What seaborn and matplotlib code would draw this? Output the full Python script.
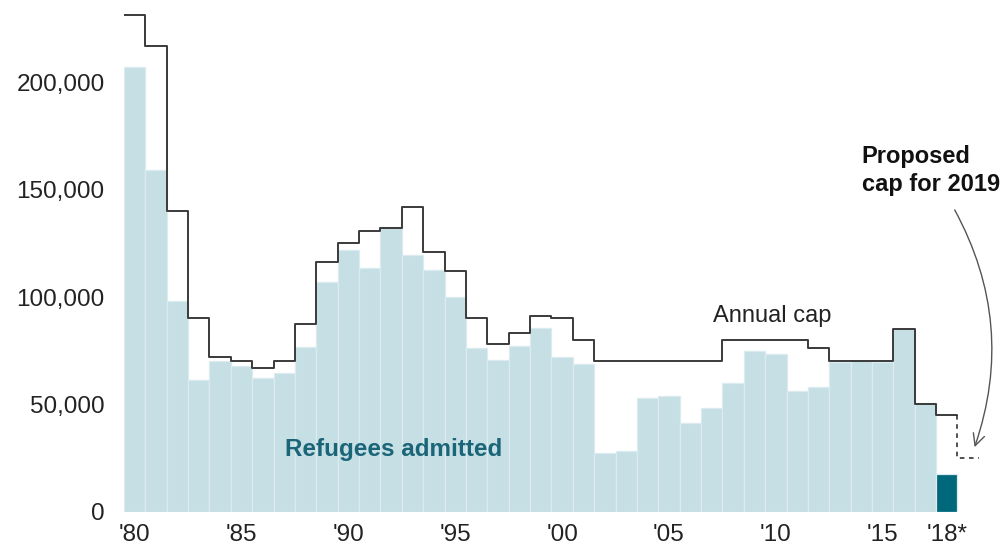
import matplotlib
matplotlib.use("Agg")
import matplotlib.pyplot as plt
import seaborn as sns
import pandas as pd
import numpy as np

years = list(range(1980, 2019))
admitted = [207116, 159252, 98096, 61218, 70393, 67704, 62146, 64528, 76483, 107070,
            122066, 113389, 132531, 119448, 112682, 99974, 76403, 70488, 77080, 85525,
            72165, 68920, 27131, 28403, 52868, 53813, 41223, 48218, 60107, 74602,
            73293, 56384, 58179, 69909, 69975, 69920, 84989, 50400, 17700]
cap = [231700, 217000, 140000, 90000, 72000, 70000, 67000, 70000, 87500, 116500,
       125000, 131000, 132000, 142000, 121000, 112000, 90000, 78000, 83000, 91000,
       90000, 80000, 70000, 70000, 70000, 70000, 70000, 70000, 80000, 80000,
       80000, 80000, 76000, 70000, 70000, 70000, 85000, 50000, 45000]
proposed_year = 2019
proposed_cap = 25000
tick_years = [1980, 1985, 1990, 1995, 2000, 2005, 2010, 2015, 2018]
tick_labels = ["'80", "'85", "'90", "'95", "'00", "'05", "'10", "'15", "'18*"]
y_ticks = [0, 50000, 100000, 150000, 200000]
y_tick_labels = ["0", "50,000", "100,000", "150,000", "200,000"]

LIGHT = "#c5dfe5"
DARK = "#00687b"

sns.set_style("white")
plt.rcParams["font.family"] = ["Liberation Sans", "DejaVu Sans"]

df = pd.DataFrame({"year": years, "admitted": admitted,
                   "kind": ["full"] * (len(years) - 1) + ["partial"]})

fig = plt.figure(figsize=(10, 5.48), dpi=100)
ax = fig.add_axes([0.124, 0.0666, 0.857, 0.9316])

sns.barplot(data=df, x="year", y="admitted", hue="kind",
            palette={"full": LIGHT, "partial": DARK},
            native_scale=True, width=1, dodge=False, legend=False,
            errorbar=None, edgecolor="#dcebef", linewidth=0.9,
            saturation=1, ax=ax)

# annual cap as a step line
edges = [y - 0.5 for y in years] + [years[-1] + 0.5]
ax.step(edges, cap + [cap[-1]], where="post", color="#3a3a3a", lw=1.4, zorder=3)
# proposed cap for 2019 (dashed)
ax.plot([years[-1] + 0.5, years[-1] + 0.5, proposed_year + 0.5],
        [cap[-1], proposed_cap, proposed_cap],
        color="#222222", lw=1.1, ls=(0, (3, 3)), zorder=3)

ax.set_xlim(1979.5, 2019.6)
ax.set_ylim(0, 238000)
ax.set_xticks(tick_years)
ax.set_xticklabels(tick_labels)
ax.set_yticks(y_ticks)
ax.set_yticklabels(y_tick_labels)
ax.set_xlabel("")
ax.set_ylabel("")
for s in ax.spines.values():
    s.set_visible(False)
ax.tick_params(axis="y", length=9, width=1.5, color="#c4c4c4", pad=5,
               labelsize=17.5, labelcolor="#222222")
ax.tick_params(axis="x", length=0, pad=9, labelsize=17.5, labelcolor="#222222")

ax.text(2007.05, 91000, "Annual cap", fontsize=17, color="#222222",
        va="center", ha="left")
ax.text(1987.03, 28700, "Refugees admitted", fontsize=17.5, fontweight="bold",
        color="#1b6578", va="center", ha="left")
ax.text(2014.02, 159000, "Proposed\ncap for 2019", fontsize=17, fontweight="bold",
        color="#111111", va="center", ha="left", linespacing=1.3)
ax.annotate("", xy=(2019.3, 30000), xytext=(2018.37, 140600),
            arrowprops=dict(arrowstyle="->,head_length=0.6,head_width=0.3",
                            color="#555555", lw=1.0,
                            connectionstyle="arc3,rad=-0.22",
                            shrinkA=0, shrinkB=0, mutation_scale=14),
            annotation_clip=False)

fig.savefig("out.png", dpi=100)
